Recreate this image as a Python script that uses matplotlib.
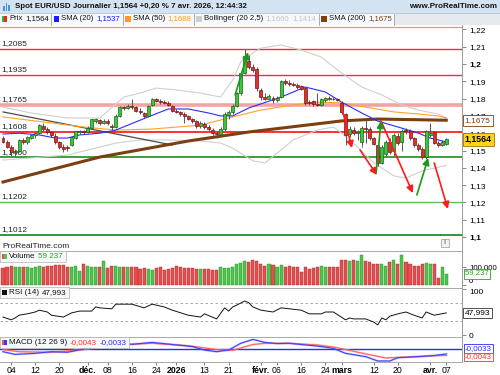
import matplotlib
matplotlib.use("Agg")
import matplotlib.pyplot as plt
import matplotlib.transforms as mtransforms
from matplotlib.patches import Rectangle
import numpy as np
import pandas as pd

plt.rcParams['font.family'] = ['Liberation Sans', 'DejaVu Sans']

# ---- data ----
dates = pd.bdate_range('2025-10-31', '2026-04-07')
dates = dates[~dates.isin(pd.to_datetime(['2025-12-25', '2026-01-01']))]

opens = [1.1570, 1.1550, 1.1520, 1.1490, 1.1495, 1.1560, 1.1550, 1.1575, 1.1590, 1.1600,
         1.1640, 1.1625, 1.1605, 1.1585, 1.1550, 1.1520, 1.1520, 1.1530, 1.1575, 1.1605,
         1.1610, 1.1605, 1.1630, 1.1670, 1.1675, 1.1660, 1.1670, 1.1640, 1.1635, 1.1700,
         1.1750, 1.1745, 1.1760, 1.1750, 1.1730, 1.1715, 1.1700, 1.1765, 1.1795, 1.1785,
         1.1780, 1.1775, 1.1760, 1.1730, 1.1720, 1.1710, 1.1700, 1.1680, 1.1670, 1.1640,
         1.1655, 1.1635, 1.1620, 1.1600, 1.1595, 1.1625, 1.1705, 1.1720, 1.1760, 1.1830,
         1.1950, 1.2020, 1.1985, 1.1970, 1.1850, 1.1810, 1.1800, 1.1805, 1.1790, 1.1810,
         1.1900, 1.1890, 1.1885, 1.1880, 1.1870, 1.1860, 1.1780, 1.1785, 1.1770, 1.1765,
         1.1790, 1.1805, 1.1800, 1.1795, 1.1775, 1.1710, 1.1595, 1.1620, 1.1600, 1.1550,
         1.1630, 1.1625, 1.1570, 1.1530, 1.1430, 1.1480, 1.1550, 1.1500, 1.1585, 1.1550,
         1.1620, 1.1615, 1.1570, 1.1530, 1.1510, 1.1460, 1.1590, 1.1605, 1.1545, 1.1530,
         1.1535]
highs = [1.1585, 1.1560, 1.1530, 1.1510, 1.1565, 1.1570, 1.1585, 1.1595, 1.1605, 1.1655,
         1.1660, 1.1635, 1.1615, 1.1600, 1.1555, 1.1540, 1.1530, 1.1585, 1.1615, 1.1620,
         1.1620, 1.1640, 1.1685, 1.1690, 1.1685, 1.1685, 1.1680, 1.1655, 1.1710, 1.1760,
         1.1760, 1.1770, 1.1800, 1.1760, 1.1745, 1.1725, 1.1765, 1.1805, 1.1805, 1.1795,
         1.1790, 1.1785, 1.1765, 1.1740, 1.1730, 1.1725, 1.1705, 1.1690, 1.1675, 1.1670,
         1.1665, 1.1645, 1.1630, 1.1615, 1.1635, 1.1720, 1.1735, 1.1770, 1.1840, 1.1960,
         1.2085, 1.2050, 1.2000, 1.1980, 1.1860, 1.1830, 1.1825, 1.1815, 1.1815, 1.1910,
         1.1915, 1.1910, 1.1895, 1.1890, 1.1880, 1.1865, 1.1790, 1.1790, 1.1830, 1.1805,
         1.1810, 1.1815, 1.1810, 1.1805, 1.1785, 1.1715, 1.1640, 1.1635, 1.1620, 1.1640,
         1.1675, 1.1635, 1.1580, 1.1540, 1.1530, 1.1560, 1.1570, 1.1600, 1.1600, 1.1625,
         1.1630, 1.1625, 1.1580, 1.1545, 1.1520, 1.1620, 1.1660, 1.1615, 1.1555, 1.1560,
         1.1575]
lows = [1.1545, 1.1515, 1.1470, 1.1470, 1.1490, 1.1535, 1.1540, 1.1565, 1.1575, 1.1595,
        1.1610, 1.1595, 1.1580, 1.1540, 1.1510, 1.1490, 1.1500, 1.1525, 1.1565, 1.1595,
        1.1595, 1.1600, 1.1625, 1.1660, 1.1650, 1.1655, 1.1650, 1.1620, 1.1630, 1.1695,
        1.1735, 1.1740, 1.1740, 1.1720, 1.1710, 1.1690, 1.1695, 1.1760, 1.1780, 1.1770,
        1.1770, 1.1760, 1.1720, 1.1715, 1.1700, 1.1660, 1.1675, 1.1660, 1.1630, 1.1630,
        1.1625, 1.1615, 1.1590, 1.1575, 1.1585, 1.1615, 1.1680, 1.1710, 1.1750, 1.1820,
        1.1940, 1.1970, 1.1955, 1.1845, 1.1790, 1.1790, 1.1795, 1.1775, 1.1780, 1.1805,
        1.1880, 1.1870, 1.1870, 1.1855, 1.1850, 1.1765, 1.1765, 1.1760, 1.1755, 1.1760,
        1.1780, 1.1790, 1.1790, 1.1785, 1.1710, 1.1530, 1.1580, 1.1590, 1.1560, 1.1520,
        1.1545, 1.1560, 1.1530, 1.1410, 1.1420, 1.1470, 1.1480, 1.1470, 1.1530, 1.1500,
        1.1595, 1.1560, 1.1520, 1.1500, 1.1450, 1.1450, 1.1580, 1.1535, 1.1520, 1.1525,
        1.1530]
closes = [1.1550, 1.1520, 1.1490, 1.1495, 1.1560, 1.1550, 1.1580, 1.1590, 1.1600, 1.1650,
          1.1625, 1.1605, 1.1590, 1.1550, 1.1520, 1.1510, 1.1515, 1.1580, 1.1610, 1.1610,
          1.1605, 1.1630, 1.1680, 1.1680, 1.1660, 1.1670, 1.1660, 1.1635, 1.1700, 1.1750,
          1.1745, 1.1760, 1.1750, 1.1730, 1.1720, 1.1700, 1.1760, 1.1795, 1.1785, 1.1780,
          1.1775, 1.1765, 1.1730, 1.1720, 1.1710, 1.1700, 1.1680, 1.1670, 1.1640, 1.1660,
          1.1635, 1.1625, 1.1600, 1.1595, 1.1625, 1.1710, 1.1720, 1.1760, 1.1830, 1.1950,
          1.2045, 1.1980, 1.1965, 1.1860, 1.1810, 1.1800, 1.1815, 1.1790, 1.1805, 1.1900,
          1.1890, 1.1885, 1.1880, 1.1865, 1.1855, 1.1775, 1.1775, 1.1770, 1.1765, 1.1795,
          1.1805, 1.1800, 1.1795, 1.1790, 1.1720, 1.1590, 1.1625, 1.1600, 1.1605, 1.1630,
          1.1625, 1.1570, 1.1540, 1.1430, 1.1520, 1.1550, 1.1490, 1.1590, 1.1545, 1.1615,
          1.1610, 1.1570, 1.1530, 1.1510, 1.1460, 1.1610, 1.1600, 1.1545, 1.1530, 1.1550,
          1.1564]
volumes_k = [96, 102, 106, 98, 98, 98, 102, 96, 98, 106,
             102, 106, 107, 111, 109, 109, 98, 102, 107, 78,
             117, 107, 98, 98, 98,
             133, 96, 106, 106, 98, 98, 98, 98, 98, 89,
             93, 89, 83, 96, 98, 83, 87, 93, 107, 98,
             94, 93, 93, 87, 87, 87, 89, 83, 83, 102,
             93, 93, 98, 117, 120, 135, 130, 139, 135, 115,
             107, 117, 111, 98, 111, 102, 107, 102, 98, 74,
             98, 89, 93, 98, 106, 98, 98, 98, 98, 139,
             139, 135, 139, 133, 167, 135, 126, 117, 117, 117,
             107, 126, 139, 117, 167, 130, 117, 107, 107, 117,
             120, 117, 117, 41, 98, 59.237]

sma20_bar = [0, 4, 9, 13, 16, 19, 24, 28, 36, 41, 46, 51, 54, 57, 61, 69, 75, 80, 84, 89, 93, 98, 103, 106, 110]
sma20 = [1.1595, 1.1600, 1.1590, 1.1572, 1.1572, 1.1590, 1.1600, 1.1618, 1.1694, 1.1740, 1.1740, 1.1717,
         1.1700, 1.1700, 1.1746, 1.1809, 1.1867, 1.1838, 1.1780, 1.1717, 1.1670, 1.1636, 1.1601, 1.1572, 1.1550]
sma50_bar = [0, 12, 20, 28, 37, 49, 57, 64, 72, 78, 84, 90, 97, 103, 108, 110]
sma50 = [1.1694, 1.1659, 1.1636, 1.1618, 1.1624, 1.1647, 1.1694, 1.1734, 1.1763, 1.1780, 1.1775, 1.1751,
         1.1723, 1.1711, 1.1700, 1.1688]
sma200_bar = [0, 24, 46, 61, 84, 93, 110]
sma200 = [1.1318, 1.1462, 1.1555, 1.1607, 1.1671, 1.1682, 1.1675]
bb_up_bar = [0, 7, 16, 24, 30, 34, 38, 43, 49, 54, 57, 59, 62, 64, 69, 74, 79, 84, 89, 94, 99, 103, 108, 110]
bb_up = [1.1751, 1.1717, 1.1688, 1.1688, 1.1809, 1.1832, 1.1861, 1.1850, 1.1832, 1.1809, 1.1908, 1.2012,
         1.2064, 1.2092, 1.2110, 1.2081, 1.2040, 1.1948, 1.1867, 1.1821, 1.1763, 1.1734, 1.1711, 1.1690]
bb_lo_bar = [0, 7, 16, 23, 28, 34, 41, 49, 54, 57, 60, 62, 65, 69, 72, 78, 82, 84, 88, 92, 97, 100, 104, 110]
bb_lo = [1.1445, 1.1457, 1.1474, 1.1514, 1.1543, 1.1561, 1.1561, 1.1555, 1.1543, 1.1514, 1.1470, 1.1440,
         1.1428, 1.1503, 1.1561, 1.1618, 1.1636, 1.1601, 1.1520, 1.1428, 1.1353, 1.1341, 1.1382, 1.1414]
trend_bar = [0, 42]
trend = [1.1723, 1.1532]

levels = [1.2085, 1.1935, 1.1765, 1.1608, 1.1460, 1.1202, 1.1012]
level_labels = ['1,2085', '1,1935', '1,1765', '1,1608', '1,1460', '1,1202', '1,1012']
top_level = 1.2216

# arrows drawn on the chart: (bar, price) start -> end
red_from = [(84.4, 1.1717), (88.6, 1.1503), (93.8, 1.1671), (107.0, 1.1428)]
red_to = [(86.6, 1.1514), (92.8, 1.1358), (101.7, 1.1254), (110.4, 1.1162)]
green_from = [(57.6, 1.1821), (92.6, 1.1370), (102.7, 1.1243)]
green_to = [(60.8, 1.2069), (93.8, 1.1671), (105.5, 1.1457)]

rsi_bar = [0, 2, 3, 4, 6, 8, 9, 11, 12, 15, 17, 19, 22, 23, 24, 27, 28, 30, 32, 35, 37, 40, 42, 46, 49, 50,
           53, 55, 56, 57, 58, 60, 61, 62, 64, 67, 69, 71, 74, 76, 79, 80, 82, 85, 86, 87, 90, 92, 93, 94,
           95, 96, 98, 100, 102, 104, 105, 107, 110]
rsi = [39, 33, 37, 43, 46, 50, 54, 50, 43, 39, 48, 52, 52, 61, 59, 57, 67, 67, 67, 59, 67, 61, 54, 43, 39, 46,
       35, 59, 52, 61, 65, 74, 70, 61, 54, 50, 59, 57, 54, 46, 46, 50, 50, 33, 37, 35, 35, 28, 22, 37,
       33, 41, 46, 50, 43, 37, 50, 43, 47.993]

macd_bar = [0, 3, 8, 12, 16, 20, 24, 28, 32, 37, 42, 47, 50, 53, 56, 59, 62, 65, 68, 71, 74, 79, 82, 85,
            90, 93, 96, 98, 103, 107, 110]
macd = [-0.0018, -0.0036, -0.0029, -0.0018, -0.0022, 0.0000, 0.0016, 0.0036, 0.0031, 0.0044, 0.0030,
        0.0016, -0.0007, -0.0018, -0.0007, 0.0038, 0.0064, 0.0044, 0.0036, 0.0038, 0.0030, 0.0016, 0.0004,
        -0.0029, -0.0051, -0.0080, -0.0080, -0.0058, -0.0051, -0.0044, -0.0033]
signal_bar = [0, 4, 12, 20, 28, 37, 46, 53, 57, 62, 65, 71, 78, 82, 86, 90, 95, 98, 103, 107, 110]
signal = [-0.0004, -0.0018, -0.0022, -0.0004, 0.0027, 0.0038, 0.0022, -0.0004, -0.0009, 0.0030, 0.0038,
          0.0038, 0.0027, 0.0013, -0.0009, -0.0033, -0.0060, -0.0056, -0.0050, -0.0044, -0.0043]

tick_dates = ['2025-11-04', '2025-11-12', '2025-11-20', '2025-12-01', '2025-12-08', '2025-12-16',
              '2025-12-24', '2026-01-02', '2026-01-13', '2026-01-21', '2026-02-02', '2026-02-06',
              '2026-02-16', '2026-02-24', '2026-03-02', '2026-03-12', '2026-03-20', '2026-04-01',
              '2026-04-07']
tick_labels = ['04', '12', '20', 'déc.', '08', '16', '24', '2026', '13', '21', 'févr.', '06', '16', '24',
               'mars', '12', '20', 'avr.', '07']
bold_ticks = ['déc.', '2026', 'févr.', 'mars', 'avr.']

price_ticks = [1.22, 1.21, 1.20, 1.19, 1.18, 1.17, 1.16, 1.15, 1.14, 1.13, 1.12, 1.11, 1.10]
price_tick_labels = ['1,22', '1,21', '1,2', '1,19', '1,18', '1,17', '1,16', '1,15', '1,14', '1,13',
                     '1,12', '1,11', '1,1']

# ---- figure ----
W, H = 500, 375
fig = plt.figure(figsize=(5, 3.75), dpi=100)
fig.patch.set_facecolor('white')
renderer = fig.canvas.get_renderer()


def box(px0, py0, px1, py1):
    return [px0 / W, 1 - py1 / H, (px1 - px0) / W, (py1 - py0) / H]


def ftext(px, py, s, **kw):
    return fig.text(px / W, 1 - py / H, s, **kw)


def text_right(t):
    return t.get_window_extent(renderer).x1


AX_R = 462
ax_p = fig.add_axes(box(0, 26, AX_R, 250))
ax_v = fig.add_axes(box(0, 251, AX_R, 287))
ax_r = fig.add_axes(box(0, 288, AX_R, 336))
ax_m = fig.add_axes(box(0, 337, AX_R, 362))

xlim = (-0.744, 113.9)
for ax in (ax_p, ax_v, ax_r, ax_m):
    ax.set_xlim(*xlim)
    for s in ax.spines.values():
        s.set_visible(False)
    ax.set_facecolor('white')
    ax.yaxis.tick_right()
    ax.tick_params(axis='y', length=3, width=0.6, color='#777777', labelsize=6, pad=2)
    ax.set_xticks([])

# price panel
ax_p.set_ylim(1.09249, 1.22197)
n = len(closes)
bars = np.arange(n)
o = np.array(opens)
c = np.array(closes)
up = c >= o

ax_p.axhline(top_level, color='#ff8a8a', lw=0.9, zorder=2)
lvl_col = ['#ff2a2a', '#ff2a2a', '#f6a2a2', '#ff2020', '#2a9a2a', '#5cc05c', '#2a8a2a']
lvl_lw = [1.0, 1.0, 2.6, 1.3, 1.3, 1.0, 1.3]
ytrans = mtransforms.blended_transform_factory(ax_p.transAxes, ax_p.transData)
for lv, lab, col, lw in zip(levels, level_labels, lvl_col, lvl_lw):
    ax_p.axhline(lv, color=col, lw=lw, zorder=2)
    ax_p.annotate(lab, xy=(0, lv), xycoords=ytrans, xytext=(1.2, 1.3), textcoords='offset points',
                  fontsize=6, color='#222222', va='bottom', ha='left', zorder=2.5)

ax_p.plot(bb_up_bar, bb_up, color='#cfcfcf', lw=0.8, zorder=2.6)
ax_p.plot(bb_lo_bar, bb_lo, color='#cfcfcf', lw=0.8, zorder=2.6)
ax_p.plot(trend_bar, trend, color='#4a4a4a', lw=0.9, zorder=2.7)
ax_p.plot(sma50_bar, sma50, color='#ffa22a', lw=0.8, zorder=2.8)
ax_p.plot(sma200_bar, sma200, color='#7b3f12', lw=2.2, zorder=2.8)
ax_p.plot(sma20_bar, sma20, color='#2b2bff', lw=0.8, zorder=2.9)

ax_p.vlines(bars, lows, highs, color='#555555', lw=0.7, zorder=3)
ax_p.bar(bars, np.maximum(np.abs(c - o), 0.0004), bottom=np.minimum(o, c), width=0.74,
         color=np.where(up, '#38c838', '#e62e28'), edgecolor=np.where(up, '#1a5e1a', '#6e1616'),
         lw=0.5, zorder=4)

for (x0, y0), (x1, y1) in zip(red_from, red_to):
    ax_p.annotate('', xy=(x1, y1), xytext=(x0, y0),
                  arrowprops=dict(arrowstyle='-|>', color='#ff1a1a', lw=1.2, mutation_scale=10,
                                  shrinkA=0, shrinkB=0), zorder=5)
for (x0, y0), (x1, y1) in zip(green_from, green_to):
    ax_p.annotate('', xy=(x1, y1), xytext=(x0, y0),
                  arrowprops=dict(arrowstyle='-|>', color='#1a9a1a', lw=1.2, mutation_scale=10,
                                  shrinkA=0, shrinkB=0), zorder=5)

ax_p.set_yticks(price_ticks)
ax_p.set_yticklabels(price_tick_labels)
for t in ax_p.get_yticklabels():
    if t.get_text() in ('1,2', '1,1'):
        t.set_fontweight('bold')

vtrans = mtransforms.blended_transform_factory(ax_p.transAxes, ax_p.transData)
ax_p.text(1.006, sma200[-1], '1,1675', transform=vtrans, fontsize=6, color='#7b3f12', va='center',
          ha='left', bbox=dict(boxstyle='square,pad=0.25', fc='white', ec='#7b3f12', lw=0.6), zorder=6)
ax_p.text(1.006, closes[-1], '1,1564', transform=vtrans, fontsize=6.3, color='black', fontweight='bold',
          va='center', ha='left',
          bbox=dict(boxstyle='square,pad=0.25', fc='#ffd21a', ec='#a07800', lw=0.6), zorder=6)

# volume panel
ax_v.set_ylim(-11100, 188900)
vols = np.array(volumes_k) * 1000
ax_v.bar(bars, vols, width=0.76, color=np.where(up, '#4cc64c', '#e25050'),
         edgecolor=np.where(up, '#2a8a2a', '#b02828'), lw=0.3, zorder=3)
ax_v.set_yticks([0, 100000])
ax_v.set_yticklabels(['0', '100.000'])
ax_v.tick_params(axis='y', labelsize=5.6)
ax_v.get_yticklabels()[0].set_verticalalignment('bottom')
ax_v.text(1.006, 62000, '59 237', transform=mtransforms.blended_transform_factory(ax_v.transAxes, ax_v.transData),
          fontsize=5.6, color='#2aa02a', va='center', ha='left',
          bbox=dict(boxstyle='square,pad=0.15', fc='white', ec='#2aa02a', lw=0.6), zorder=6)

# RSI panel
ax_r.set_ylim(-2.17, 102.17)
ax_r.axhline(70, color='#999999', lw=0.6, ls=(0, (3, 3)))
ax_r.axhline(30, color='#999999', lw=0.6, ls=(0, (3, 3)))
ax_r.plot(rsi_bar, rsi, color='#111111', lw=0.7)
ax_r.set_yticks([0, 100])
ax_r.set_yticklabels(['0', '100'])
ax_r.get_yticklabels()[1].set_verticalalignment('top')
ax_r.text(1.006, rsi[-1], '47,993', transform=mtransforms.blended_transform_factory(ax_r.transAxes, ax_r.transData),
          fontsize=6, color='black', va='center', ha='left',
          bbox=dict(boxstyle='square,pad=0.2', fc='white', ec='#333333', lw=0.6), zorder=6)

# MACD panel
ax_m.set_ylim(-0.00867, 0.008)
ax_m.axhline(0, color='#2a2aff', lw=1.0)
ax_m.plot(signal_bar, signal, color='#ff8080', lw=1.6, alpha=0.35)
ax_m.plot(macd_bar, macd, color='#7070ff', lw=1.6, alpha=0.35)
ax_m.plot(signal_bar, signal, color='#ff6060', lw=0.8)
ax_m.plot(macd_bar, macd, color='#4040ff', lw=0.8)
ax_m.set_yticks([])
ax_m.text(1.006, 0.55, '-0,0033', transform=ax_m.transAxes, fontsize=5.8, color='#2a2aff', va='center',
          ha='left', bbox=dict(boxstyle='square,pad=0.12', fc='white', ec='#2a2aff', lw=0.6))
ax_m.text(1.006, 0.2, '-0,0043', transform=ax_m.transAxes, fontsize=5.8, color='#ff3030', va='center',
          ha='left', bbox=dict(boxstyle='square,pad=0.12', fc='white', ec='#ff3030', lw=0.6))

date_pos = {d.strftime('%Y-%m-%d'): i for i, d in enumerate(dates)}
ax_m.set_xticks([date_pos[d] for d in tick_dates])
ax_m.set_xticklabels(tick_labels)
ax_m.tick_params(axis='x', length=2, width=0.6, color='#666666', labelsize=6.3, pad=1)
for t in ax_m.get_xticklabels():
    if t.get_text() in bold_ticks:
        t.set_fontweight('bold')

# panel separators and right axis line
for py in (250.5, 287.5, 336.5, 362.3):
    fig.add_artist(plt.Line2D([0, AX_R / W], [1 - py / H] * 2, color='#a8a8a8', lw=0.7))
fig.add_artist(plt.Line2D([AX_R / W] * 2, [1 - 25 / H, 1 - 362.3 / H], color='#9a9a9a', lw=0.7))

# header bar
fig.add_artist(Rectangle((0, 1 - 13 / H), 1, 13 / H, transform=fig.transFigure, fc='#d4e3f1', ec='none'))
fig.add_artist(Rectangle((0, 1 - 25 / H), 1, 12 / H, transform=fig.transFigure, fc='#e6eaef', ec='none'))
fig.add_artist(plt.Line2D([0, 1], [1 - 13 / H] * 2, color='#b9c6d3', lw=0.6))
for bx, bh in zip([3, 5.5, 8], [5, 8, 6]):
    fig.add_artist(Rectangle((bx / W, 1 - 11 / H), 1.6 / W, bh / H, transform=fig.transFigure,
                             fc='#4a90d9', ec='none'))
ftext(15, 7, 'Spot EUR/USD Journalier 1,1564 +0,20 % 7 avr. 2026, 12:44:32', fontsize=5.7,
      fontweight='bold', va='center', ha='left', color='#111111')
ftext(497, 7, 'www.ProRealTime.com', fontsize=5.8, fontweight='bold', va='center', ha='right', color='#111111')

# price legend row (measured so pieces don't collide)
items = [
    (['#2fb52f', '#e02a2a'], [('Prix', '#111111'), ('1,1564', '#111111')]),
    (['#1a1aff'], [('SMA (20)', '#111111'), ('1,1537', '#1a1aff')]),
    (['#ff9a1a'], [('SMA (50)', '#111111'), ('1,1688', '#ff9a1a')]),
    (['#cfcfcf'], [('Bollinger (20 2,5)', '#111111'), ('1,1660', '#c4c4c4'), ('1,1414', '#c4c4c4')]),
    (['#7b3f12'], [('SMA (200)', '#111111'), ('1,1675', '#7b3f12')]),
]
cur = 0
for sq_cols, texts in items:
    start = cur
    wsq = 5.5 / len(sq_cols)
    for k, col in enumerate(sq_cols):
        fig.add_artist(Rectangle(((start + 1.5 + k * wsq) / W, 1 - 22 / H), wsq / W, 6 / H,
                                 transform=fig.transFigure, fc=col, ec='none', zorder=3))
    tx = start + 9
    for s, col in texts:
        t = ftext(tx, 19, s, fontsize=5.6, va='center', ha='left', color=col, zorder=3)
        tx = text_right(t) + 2.6
    end = tx
    fig.add_artist(Rectangle((start / W, 1 - 25 / H), (end - start) / W, 11 / H,
                             transform=fig.transFigure, fc='#f7f8fa', ec='none', zorder=2))
    fig.add_artist(plt.Line2D([end / W] * 2, [1 - 14 / H, 1 - 25 / H], color='#9aa2ab', lw=0.6, zorder=3))
    cur = end + 1


def panel_legend(py, sq_cols, texts):
    wsq = 5 / len(sq_cols)
    for k, col in enumerate(sq_cols):
        fig.add_artist(Rectangle(((1.5 + k * wsq) / W, 1 - (py + 2.5) / H), wsq / W, 5 / H,
                                 transform=fig.transFigure, fc=col, ec='none', zorder=9))
    tx = 9
    for s, col in texts:
        t = ftext(tx, py, s, fontsize=5.8, va='center', ha='left', color=col, zorder=10)
        tx = text_right(t) + 2.5
    fig.add_artist(Rectangle((0, 1 - (py + 5.5) / H), (tx + 0.5) / W, 11 / H, transform=fig.transFigure,
                             fc='#f7f8fa', ec='#b0b0b0', lw=0.5, zorder=8))


panel_legend(256.5, ['#e25050', '#4cc64c'], [('Volume', '#111111'), ('59 237', '#2aa02a')])
panel_legend(292.5, ['#111111'], [('RSI (14)', '#111111'), ('47,993', '#111111')])
panel_legend(342.5, ['#ff5050', '#3a3aff'], [('MACD (12 26 9)', '#111111'), ('-0,0043', '#ff3030'),
                                            ('-0,0033', '#2a2aff')])

ftext(2, 246, 'ProRealTime.com', fontsize=6, va='center', ha='left', color='#222222')
fig.add_artist(Rectangle((441 / W, 1 - 247 / H), 8 / W, 8 / H, transform=fig.transFigure,
                         fc='#f2f2f2', ec='#aaaaaa', lw=0.6))
ftext(445, 243, 'i', fontsize=5.5, va='center', ha='center', color='#888888', fontweight='bold')

fig.savefig('out.png', dpi=100)
